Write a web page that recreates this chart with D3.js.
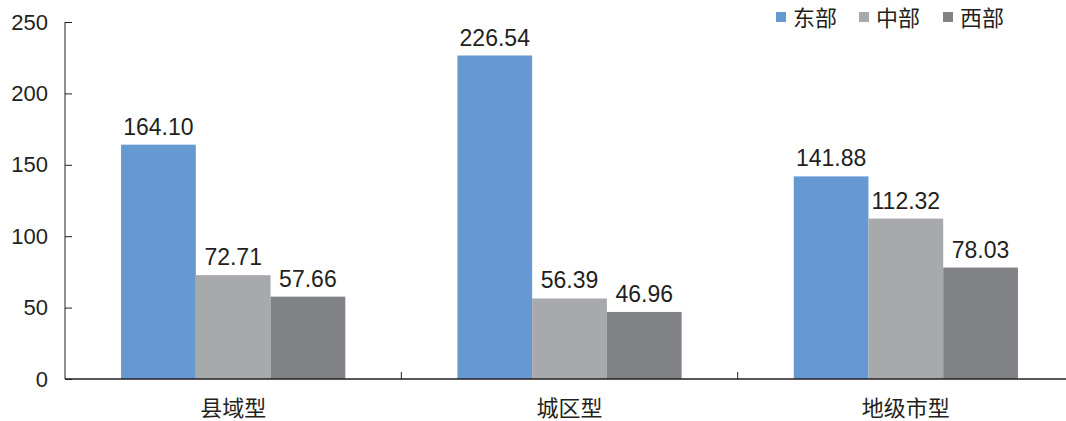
<!DOCTYPE html>
<html>
<head>
<meta charset="utf-8">
<script src="https://cdn.jsdelivr.net/npm/d3@7"></script>
<style>
  body { margin: 0; background: #fff; }
  svg text { font-family: "Liberation Sans", Arial, sans-serif; fill: #231f20; }
  .cjk { font-family: "Noto Sans CJK SC", sans-serif; }
</style>
</head>
<body>
<div id="chart"></div>
<script>
// dati
var categorie = ["县域型", "城区型", "地级市型"];
var serie = ["东部", "中部", "西部"];
var valoriEst = [164.10, 226.54, 141.88];
var valoriCentro = [72.71, 56.39, 112.32];
var valoriOvest = [57.66, 46.96, 78.03];
var yTicks = [0, 50, 100, 150, 200, 250];
var colori = ["#6699d1", "#a7a9ac", "#808285"];

var width = 1066, height = 421;
var margin = {top: 22, left: 65, bottom: 42};

var righe = categorie.map(function(c, i) {
  return {cat: c, valori: [valoriEst[i], valoriCentro[i], valoriOvest[i]]};
});

var svg = d3.select("#chart").append("svg")
  .attr("width", width)
  .attr("height", height);

var y = d3.scaleLinear().domain([0, 250]).range([height - margin.bottom, margin.top]);

// the plot runs a bit past the right edge of the picture
var x0 = d3.scaleBand().domain(categorie).range([margin.left, 1074])
  .paddingInner(1 / 3).paddingOuter(1 / 6);
var x1 = d3.scaleBand().domain(serie).range([0, x0.bandwidth()]);

// barre
var gruppi = svg.selectAll(".gruppo").data(righe).enter().append("g")
  .attr("transform", function(d) { return "translate(" + x0(d.cat) + ",0)"; });

gruppi.selectAll("rect").data(function(d) { return d.valori; }).enter().append("rect")
  .attr("x", function(d, i) { return x1(serie[i]); })
  .attr("y", function(d) { return y(d); })
  .attr("width", x1.bandwidth())
  .attr("height", function(d) { return y(0) - y(d); })
  .style("fill", function(d, i) { return colori[i]; });

gruppi.selectAll(".etichetta").data(function(d) { return d.valori; }).enter().append("text")
  .attr("x", function(d, i) { return x1(serie[i]) + x1.bandwidth() / 2; })
  .attr("y", function(d) { return y(d) - 10; })
  .attr("text-anchor", "middle")
  .style("font-size", "23px")
  .text(function(d) { return d.toFixed(2); });

// asse y
var assey = svg.append("g")
  .attr("transform", "translate(" + margin.left + ",0)")
  .call(d3.axisRight(y).tickValues(yTicks).tickSize(7).tickFormat(d3.format("d")));
assey.select(".domain").attr("d", "M0," + y(250) + "V" + y(0)).style("stroke", "#231f20");
assey.selectAll(".tick line").style("stroke", "#231f20");
assey.selectAll(".tick text")
  .attr("x", -17)
  .attr("text-anchor", "end")
  .style("font-size", "22px");

// asse x
var confini = [margin.left].concat(categorie.map(function(c) { return x0(c) + x0.bandwidth() + x0.step() * x0.paddingInner() / 2; }));
svg.append("line")
  .attr("x1", margin.left).attr("x2", width)
  .attr("y1", y(0)).attr("y2", y(0))
  .style("stroke", "#231f20").style("stroke-width", 1.5);
svg.selectAll(".tickx").data(confini.slice(1)).enter().append("line")
  .attr("x1", function(d) { return d; }).attr("x2", function(d) { return d; })
  .attr("y1", y(0)).attr("y2", y(0) - 7)
  .style("stroke", "#231f20");
svg.selectAll(".cat").data(categorie).enter().append("text")
  .attr("class", "cjk")
  .attr("x", function(d) { return x0(d) + x0.bandwidth() / 2; })
  .attr("y", 416)
  .attr("text-anchor", "middle")
  .style("font-size", "22px")
  .text(function(d) { return d; });

// legenda
var legendaX = [776, 859, 943];
var leg = svg.selectAll(".leg").data(serie).enter().append("g")
  .attr("transform", function(d, i) { return "translate(" + legendaX[i] + ",12)"; });
leg.append("rect").attr("width", 10).attr("height", 10)
  .style("fill", function(d, i) { return colori[i]; });
leg.append("text")
  .attr("class", "cjk")
  .attr("x", 17).attr("y", 14)
  .style("font-size", "22px")
  .text(function(d) { return d; });
</script>
</body>
</html>
